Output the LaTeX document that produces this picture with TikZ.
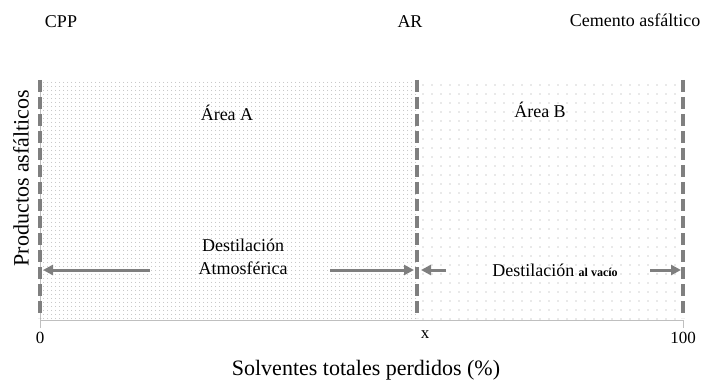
\documentclass[tikz,border=0pt]{standalone}
\usepackage{fontspec}
\setmainfont{Liberation Serif}
\usetikzlibrary{arrows.meta,patterns.meta}
\definecolor{bar}{HTML}{7F7F7F}
\definecolor{axisgray}{HTML}{BFBFBF}
\definecolor{dotgray}{HTML}{A0A0A0}
\tikzset{
  divider/.style={draw=bar, line width=3.5pt, dash pattern=on 12pt off 5pt},
  flow/.style={draw=bar, line width=3pt, -{Triangle[length=10pt,width=10pt]}},
  axisline/.style={draw=axisgray, line width=1pt},
  lab/.style={font=\fontsize{18}{23}\selectfont, inner sep=1pt},
  labl/.style={font=\fontsize{22}{26}\selectfont, inner sep=1pt},
  labs/.style={font=\fontsize{17}{20}\selectfont, inner sep=1pt},
  areaA/.style={pattern={Dots[distance=4pt,radius=0.55pt]}, pattern color=dotgray},
  areaB/.style={pattern={Dots[distance=9pt,radius=0.6pt]}, pattern color=dotgray},
}
\begin{document}
\begin{tikzpicture}[x=1pt,y=-1pt]
  \useasboundingbox (0,0) rectangle (701,382);

  % shaded areas
  \fill[areaA] (40,80) rectangle (417,320);
  \fill[areaB] (417,80) rectangle (683,320);

  % axes
  \draw[axisline] (40,80) -- (40,328);
  \draw[axisline] (40,320) -- (683,320) -- (683,328);

  % limits
  \coordinate (cpp top) at (40,80);
  \coordinate (cpp bot) at (40,318);
  \coordinate (ar top) at (417,80);
  \coordinate (ar bot) at (417,318);
  \coordinate (ca top) at (683,80);
  \coordinate (ca bot) at (683,318);
  \draw[divider] (cpp top) -- (cpp bot);
  \draw[divider] (ar top) -- (ar bot);
  \draw[divider] (ca top) -- (ca bot);

  % labels
  \node[lab] (cpp) at (61,22) {CPP};
  \node[lab] (ar) at (410,22) {AR};
  \node[lab] (ca) at (635,20) {Cemento asfáltico};
  \node[lab] (area a) at (227,113) {Área A};
  \node[lab] (area b) at (540,110) {Área B};
  \node[lab, align=center] (atm) at (243,257) {Destilación\\Atmosférica};
  \node[lab] (vac) at (555,270) {Destilación {\bfseries\fontsize{12}{14}\selectfont al vacío}};
  \node[labs] (zero) at (40,338) {0};
  \node[labs] (xval) at (425,335) {x};
  \node[labs] (hundred) at (683,338) {100};
  \node[labl] (xlab) at (366,370) {Solventes totales perdidos (\%)};
  \node[labl, rotate=90] (ylab) at (21,178) {Productos asfálticos};

  % arrows
  \coordinate (a0) at (43,270);
  \coordinate (a1) at (150,270);
  \coordinate (a2) at (330,270);
  \coordinate (a3) at (414,270);
  \coordinate (b0) at (421,270);
  \coordinate (b1) at (446,270);
  \coordinate (b2) at (650,270);
  \coordinate (b3) at (681,270);
  \draw[flow] (a1) -- (a0);
  \draw[flow] (a2) -- (a3);
  \draw[flow] (b1) -- (b0);
  \draw[flow] (b2) -- (b3);
\end{tikzpicture}
\end{document}
